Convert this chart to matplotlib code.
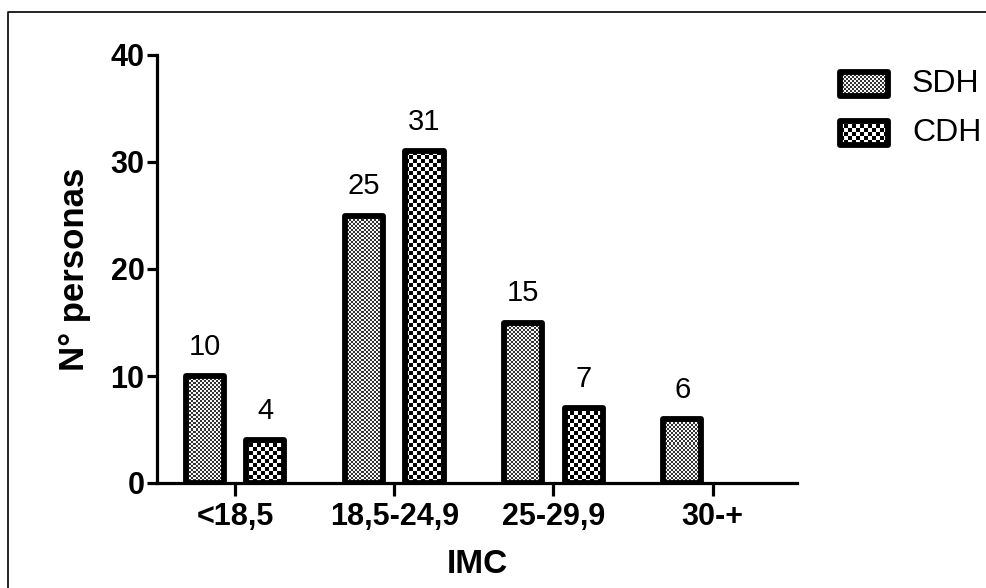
import numpy as np
import matplotlib
matplotlib.use("Agg")
import matplotlib.pyplot as plt
from matplotlib.patches import Rectangle

categories = ["<18,5", "18,5-24,9", "25-29,9", "30-+"]
series_names = ["SDH", "CDH"]
sdh = [10, 25, 15, 6]
cdh = [4, 31, 7, 0]
yticks = [0, 10, 20, 30, 40]

plt.rcParams['font.family'] = ['Liberation Sans', 'DejaVu Sans']

W, H = 987, 588
fig = plt.figure(figsize=(W / 100, H / 100), dpi=100)
ax_l, ax_r, ax_b, ax_t = 157, 797, 483, 55
ax = fig.add_axes([ax_l / W, 1 - ax_b / H, (ax_r - ax_l) / W, (ax_b - ax_t) / H])

def checker(h, w, c, dark, light):
    i = np.arange(h)[:, None] // c
    j = np.arange(w)[None, :] // c
    a = ((i + j) % 2).astype(float)
    return np.where(a > 0, light, dark)

cells = {"SDH": (2, 0.2, 0.97), "CDH": (4, 0.0, 1.0)}

x = np.arange(len(categories))
bw = 0.24
off = 0.19
xlim = (-0.49, 3.53)
ylim = (0, 40)
axw, axh = ax_r - ax_l, ax_b - ax_t

for k, (name, vals) in enumerate(zip(series_names, [sdh, cdh])):
    xs = x + (-off if k == 0 else off)
    bars = ax.bar(xs, vals, width=bw, facecolor='none', edgecolor='black',
                  linewidth=4.2, zorder=3)
    c, d, l = cells[name]
    for b, v in zip(bars, vals):
        b.set_joinstyle('round')
        if v <= 0:
            b.set_visible(False)
            continue
        img = ax.imshow(checker(axh, axw, c, d, l), cmap='gray', vmin=0, vmax=1,
                        extent=(xlim[0], xlim[1], ylim[0], ylim[1]), aspect='auto',
                        interpolation='nearest', zorder=2)
        img.set_clip_path(b)
        ax.annotate(str(v), (b.get_x() + b.get_width() / 2, v), xytext=(0, 11),
                    textcoords='offset points', ha='center', va='bottom',
                    fontsize=21)

ax.set_xlim(*xlim)
ax.set_ylim(*ylim)
ax.set_yticks(yticks)
ax.set_xticks(x)
ax.set_xticklabels(categories)
for s in ['top', 'right']:
    ax.spines[s].set_visible(False)
for s in ['left', 'bottom']:
    ax.spines[s].set_linewidth(2.3)
ax.spines['bottom'].set_capstyle('projecting')
ax.tick_params(axis='y', length=7, width=2.3, labelsize=22, pad=2)
ax.tick_params(axis='x', length=9, width=2.3, labelsize=22, pad=5)
for t in ax.get_xticklabels() + ax.get_yticklabels():
    t.set_fontweight('bold')
ax.set_ylabel("N° personas", fontsize=25, fontweight='bold', labelpad=14)
ax.set_xlabel("IMC", fontsize=24, fontweight='bold', labelpad=12)

# overlay for legend and frame
ov = fig.add_axes([0, 0, 1, 1], zorder=-1)
ov.set_xlim(0, W)
ov.set_ylim(H, 0)
ov.axis('off')
ov.plot([8, 8, W + 5], [H + 5, 12, 12], color='black', lw=1.2)

ov2 = fig.add_axes([0, 0, 1, 1], zorder=5)
ov2.set_xlim(0, W)
ov2.set_ylim(H, 0)
ov2.axis('off')
ov2.patch.set_alpha(0)
leg_y = [84, 133]
for name, yc in zip(series_names, leg_y):
    r = Rectangle((840, yc - 12), 48, 24, facecolor='none', edgecolor='black',
                  lw=4.2, joinstyle='round', zorder=3)
    ov2.add_patch(r)
    c, d, l = cells[name]
    img = ov2.imshow(checker(H, W, c, d, l), cmap='gray', vmin=0, vmax=1,
                     extent=(0, W, H, 0), aspect='auto', interpolation='nearest', zorder=2)
    img.set_clip_path(r)
    ov2.text(912, yc, name, fontsize=23, va='center', ha='left')
ov2.set_xlim(0, W)
ov2.set_ylim(H, 0)

fig.savefig("out.png", dpi=100)
